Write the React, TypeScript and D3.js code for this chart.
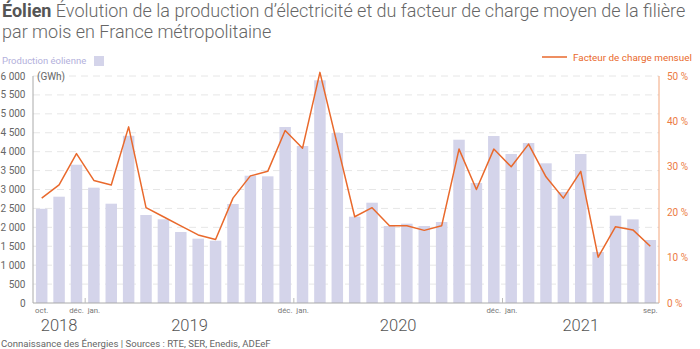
import React from "react";
import * as d3 from "d3";

const months = ["oct.","nov.","déc.","jan.","fév.","mars","avr.","mai","juin","juil.","août","sep.",
  "oct.","nov.","déc.","jan.","fév.","mars","avr.","mai","juin","juil.","août","sep.",
  "oct.","nov.","déc.","jan.","fév.","mars","avr.","mai","juin","juil.","août","sep.",];
const monthLabelShown = [0, 2, 3, 14, 15, 26, 27, 35];
const years = ["2018", "2019", "2020", "2021"];
const yearStartIndex = [0, 3, 15, 27];
const yearEndIndex = [2, 14, 26, 35];

const production = [
  2490, 2810, 3655, 3048, 2625, 4420, 2326, 2212, 1876, 1700, 1647, 2617,
  3365, 3348, 4652, 4150, 5886, 4493, 2281, 2651, 2035, 2097, 2035, 2141,
  4316, 3172, 4414, 3938, 4229, 3692, 2934, 3938, 1348, 2308, 2210, 1665,
];
const loadFactor = [
  23.1, 26.0, 32.9, 27.0, 26.0, 38.8, 21.0, 19.0, 17.0, 15.0, 14.0, 23.1,
  28.0, 29.0, 38.0, 34.1, 50.8, 34.9, 19.0, 21.0, 17.0, 17.0, 16.0, 17.0,
  33.9, 25.0, 33.9, 30.0, 35.0, 27.8, 23.1, 29.0, 10.1, 16.8, 16.1, 12.5,
];
const leftTicks = [0, 500, 1000, 1500, 2000, 2500, 3000, 3500, 4000, 4500, 5000, 5500, 6000];
const rightTicks = [0, 10, 20, 30, 40, 50];

const FONT = "Roboto, 'Noto Sans', sans-serif";
const BAR = "#d4d4ea";
const ORANGE = "#e9692c";

export default function App() {
  const left = 33, right = 659, top = 76, bottom = 303;
  const x = d3.scaleBand<number>().domain(production.map((_, i) => i)).range([left, right]).paddingInner(0.34).paddingOuter(0.17);
  const y = d3.scaleLinear().domain([0, 6000]).range([bottom, top]);
  const yr = d3.scaleLinear().domain([0, 50]).range([bottom, top]);
  const fmt = (v: number) => d3.format(",")(v).replace(/,/g, " ");
  const cx = (i: number) => (x(i) as number) + x.bandwidth() / 2;
  const line = d3.line<number>().x((_, i) => cx(i)).y(d => yr(d));
  const step = x.step();
  const boundary = (i: number) => (x(i) as number) - (step - x.bandwidth()) / 2;

  return (
    <svg width={700} height={349} style={{ position: "absolute", left: 0, top: 0, fontFamily: FONT }}>
      <rect width={700} height={349} fill="#fff" />
      <text x={2} y={17} fontSize={18} fill="#666" fontWeight={300}>
        <tspan fontWeight={700} fill="#555">Éolien</tspan> Évolution de la production d’électricité et du facteur de charge moyen de la filière
      </text>
      <text x={2} y={38} fontSize={18} fill="#666" fontWeight={300}>par mois en France métropolitaine</text>

      <text x={2} y={64} fontSize={9.5} fill="#b3b0dc">Production éolienne</text>
      <rect x={94} y={56} width={10} height={10} fill={BAR} />
      <line x1={542} x2={567} y1={57} y2={57} stroke={ORANGE} strokeWidth={1.5} />
      <text x={573} y={61} fontSize={9.9} fill={ORANGE}>Facteur de charge mensuel</text>

      {leftTicks.filter(t => t > 0).map(t => (
        <line key={"g" + t} x1={left} x2={right} y1={y(t)} y2={y(t)} stroke="#e6e6e6" strokeDasharray="7,5" />
      ))}

      {production.map((v, i) => (
        <rect key={"b" + i} x={x(i)} y={y(v)} width={x.bandwidth()} height={y(0) - y(v)} fill={BAR} />
      ))}

      <path d={line(loadFactor) || ""} fill="none" stroke={ORANGE} strokeWidth={1.5} strokeLinejoin="round" />

      <line x1={left} x2={left} y1={top} y2={bottom} stroke="#aaa" />
      <line x1={left} x2={right} y1={bottom} y2={bottom} stroke="#aaa" />
      <line x1={right} x2={right} y1={top} y2={bottom} stroke="#f2a57c" />

      {leftTicks.map(t => (
        <text key={"l" + t} x={25.5} y={y(t) + 3.5} fontSize={10} fill="#666" textAnchor="end">{fmt(t)}</text>
      ))}
      <text x={37} y={y(6000) + 3.5} fontSize={10} fill="#666">(GWh)</text>
      {rightTicks.map(t => (
        <text key={"r" + t} x={667} y={yr(t) + 3.5} fontSize={10} fill="#ec7c44">{t} %</text>
      ))}

      {yearStartIndex.slice(1).map(i => (
        <line key={"t" + i} x1={boundary(i)} x2={boundary(i)} y1={bottom - 5} y2={bottom} stroke="#bbb" />
      ))}
      {monthLabelShown.map(i => (
        <text key={"m" + i} x={cx(i)} y={313} fontSize={7.8} fill="#777" textAnchor="middle">{months[i]}</text>
      ))}
      {years.map((yy, k) => (
        <text key={yy} x={(boundary(yearStartIndex[k]) + boundary(yearEndIndex[k]) + step) / 2} y={331} fontSize={16.5} fontWeight={300} fill="#555" textAnchor="middle">{yy}</text>
      ))}
      <text x={1} y={347} fontSize={9.6} fill="#666">Connaissance des Énergies | Sources : RTE, SER, Enedis, ADEeF</text>
    </svg>
  );
}
